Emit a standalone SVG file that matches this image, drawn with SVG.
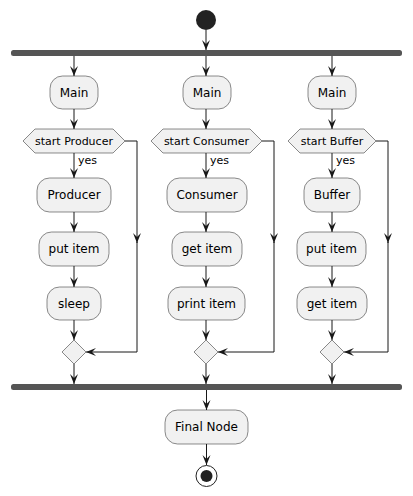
<svg xmlns="http://www.w3.org/2000/svg" width="413" height="496" viewBox="0 0 413 496">
<defs>
<style>
.act{fill:#F1F1F1;stroke:#181818;stroke-width:0.5}
.t{font-family:"DejaVu Sans",sans-serif;font-size:12px;fill:#000;text-anchor:middle}
.ts{font-family:"DejaVu Sans",sans-serif;font-size:11px;fill:#000;text-anchor:middle}
.ty{font-family:"DejaVu Sans",sans-serif;font-size:11px;fill:#000}
.bar{fill:#555555}
.ln{fill:none;stroke:#181818;stroke-width:1}
.ah{fill:#181818}
</style>
<marker id="arr" viewBox="0 0 10 10" refX="10" refY="5" markerWidth="10" markerHeight="10" markerUnits="userSpaceOnUse" orient="auto">
<polygon points="0,1 10,5 0,9 4,5" class="ah"/>
</marker>
</defs>
<rect width="413" height="496" fill="#FFFFFF"/>

<g id="start"><circle cx="206" cy="20" r="10" fill="#222222"/></g>
<g id="fork"><rect class="bar" x="11" y="50" width="391" height="6" rx="2.5"/></g>
<g id="join"><rect class="bar" x="11" y="384" width="391" height="6" rx="2.5"/></g>

<g id="main1"><rect class="act" x="50" y="76" width="48" height="33" rx="12.5"/><text class="t" x="74" y="97">Main</text></g>
<g id="main2"><rect class="act" x="183" y="76" width="48" height="33" rx="12.5"/><text class="t" x="207" y="97">Main</text></g>
<g id="main3"><rect class="act" x="308" y="76" width="48" height="33" rx="12.5"/><text class="t" x="332" y="97">Main</text></g>

<g id="ifProducer"><polygon class="act" points="23,141 35,129 113,129 125,141 113,153 35,153"/><text class="ts" x="74" y="145">start Producer</text></g>
<g id="ifConsumer"><polygon class="act" points="151,141 163,129 250,129 262,141 250,153 163,153"/><text class="ts" x="206.5" y="145">start Consumer</text></g>
<g id="ifBuffer"><polygon class="act" points="288,141 300,129 364,129 376,141 364,153 300,153"/><text class="ts" x="332" y="145">start Buffer</text></g>

<g id="producer"><rect class="act" x="37" y="178" width="74" height="34" rx="12.5"/><text class="t" x="74" y="199">Producer</text></g>
<g id="putItem1"><rect class="act" x="39" y="232" width="70" height="34" rx="12.5"/><text class="t" x="74" y="253">put item</text></g>
<g id="sleep"><rect class="act" x="47" y="287" width="54" height="33" rx="12.5"/><text class="t" x="74" y="308">sleep</text></g>

<g id="consumer"><rect class="act" x="167" y="178" width="80" height="34" rx="12.5"/><text class="t" x="207" y="199">Consumer</text></g>
<g id="getItem1"><rect class="act" x="172" y="232" width="70" height="34" rx="12.5"/><text class="t" x="207" y="253">get item</text></g>
<g id="printItem"><rect class="act" x="168" y="287" width="77" height="33" rx="12.5"/><text class="t" x="206.5" y="308">print item</text></g>

<g id="buffer"><rect class="act" x="304" y="178" width="56" height="34" rx="12.5"/><text class="t" x="332" y="199">Buffer</text></g>
<g id="putItem2"><rect class="act" x="297" y="232" width="69" height="34" rx="12.5"/><text class="t" x="331.5" y="253">put item</text></g>
<g id="getItem2"><rect class="act" x="297" y="287" width="70" height="33" rx="12.5"/><text class="t" x="332" y="308">get item</text></g>

<g id="merge1"><polygon class="act" points="62,352 74,340 86,352 74,364"/></g>
<g id="merge2"><polygon class="act" points="194,352 206,340 218,352 206,364"/></g>
<g id="merge3"><polygon class="act" points="320,352 332,340 344,352 332,364"/></g>

<g id="finalNode"><rect class="act" x="165" y="410" width="83" height="34" rx="12.5"/><text class="t" x="206.5" y="431">Final Node</text></g>
<g id="end"><circle cx="206.5" cy="476" r="10.5" fill="none" stroke="#222222" stroke-width="1"/><circle cx="206.5" cy="476" r="6" fill="#222222"/></g>

<g id="connectors">
<line class="ln" x1="206" y1="30" x2="206" y2="50" marker-end="url(#arr)"/>
<line class="ln" x1="74" y1="56" x2="74" y2="76" marker-end="url(#arr)"/>
<line class="ln" x1="206" y1="56" x2="206" y2="76" marker-end="url(#arr)"/>
<line class="ln" x1="332" y1="56" x2="332" y2="76" marker-end="url(#arr)"/>

<line class="ln" x1="74" y1="109" x2="74" y2="129" marker-end="url(#arr)"/>
<line class="ln" x1="206" y1="109" x2="206" y2="129" marker-end="url(#arr)"/>
<line class="ln" x1="332" y1="109" x2="332" y2="129" marker-end="url(#arr)"/>

<line class="ln" x1="74" y1="153" x2="74" y2="178" marker-end="url(#arr)"/>
<line class="ln" x1="206" y1="153" x2="206" y2="178" marker-end="url(#arr)"/>
<line class="ln" x1="332" y1="153" x2="332" y2="178" marker-end="url(#arr)"/>
<text class="ty" x="78" y="164">yes</text>
<text class="ty" x="210" y="164">yes</text>
<text class="ty" x="336" y="164">yes</text>

<line class="ln" x1="74" y1="212" x2="74" y2="232" marker-end="url(#arr)"/>
<line class="ln" x1="206" y1="212" x2="206" y2="232" marker-end="url(#arr)"/>
<line class="ln" x1="332" y1="212" x2="332" y2="232" marker-end="url(#arr)"/>

<line class="ln" x1="74" y1="266" x2="74" y2="287" marker-end="url(#arr)"/>
<line class="ln" x1="206" y1="266" x2="206" y2="287" marker-end="url(#arr)"/>
<line class="ln" x1="332" y1="266" x2="332" y2="287" marker-end="url(#arr)"/>

<line class="ln" x1="74" y1="320" x2="74" y2="340" marker-end="url(#arr)"/>
<line class="ln" x1="206" y1="320" x2="206" y2="340" marker-end="url(#arr)"/>
<line class="ln" x1="332" y1="320" x2="332" y2="340" marker-end="url(#arr)"/>

<polyline class="ln" points="125,141 137,141 137,243"/>
<polyline class="ln" points="137,242 137,352 86,352" marker-end="url(#arr)"/>
<polygon class="ah" points="133,233 137,243 141,233 137,237"/>
<polyline class="ln" points="262,141 274,141 274,243"/>
<polyline class="ln" points="274,242 274,352 218,352" marker-end="url(#arr)"/>
<polygon class="ah" points="270,233 274,243 278,233 274,237"/>
<polyline class="ln" points="376,141 388,141 388,243"/>
<polyline class="ln" points="388,242 388,352 344,352" marker-end="url(#arr)"/>
<polygon class="ah" points="384,233 388,243 392,233 388,237"/>

<line class="ln" x1="74" y1="364" x2="74" y2="384" marker-end="url(#arr)"/>
<line class="ln" x1="206" y1="364" x2="206" y2="384" marker-end="url(#arr)"/>
<line class="ln" x1="332" y1="364" x2="332" y2="384" marker-end="url(#arr)"/>

<line class="ln" x1="206.5" y1="390" x2="206.5" y2="410" marker-end="url(#arr)"/>
<line class="ln" x1="206.5" y1="444" x2="206.5" y2="465" marker-end="url(#arr)"/>
</g>
</svg>
